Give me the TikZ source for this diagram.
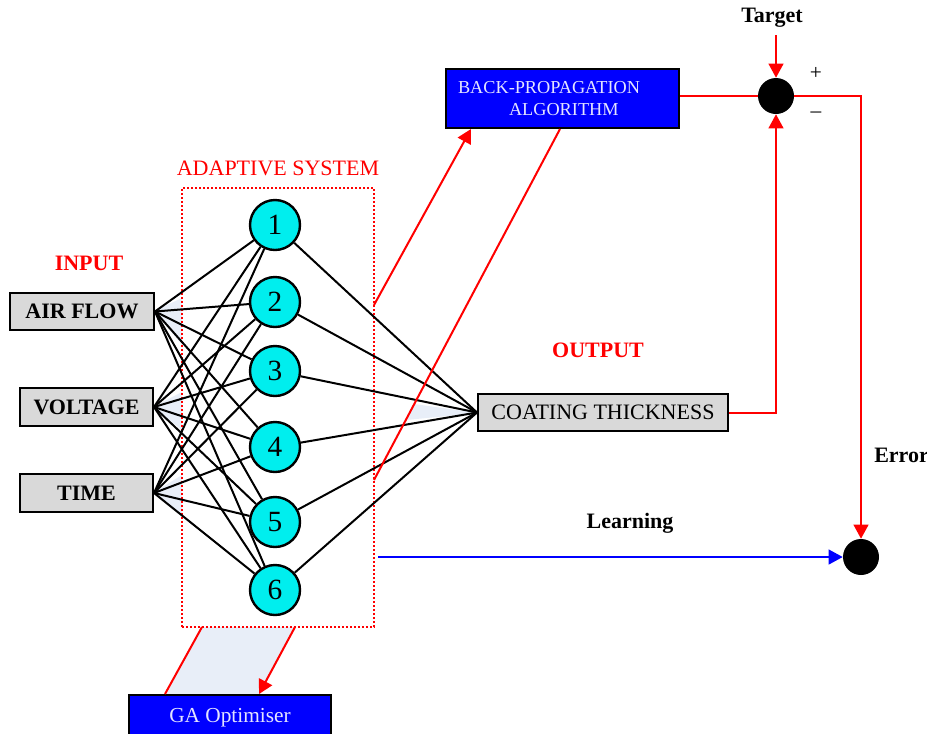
\documentclass[tikz,border=0pt]{standalone}
\usepackage{fontspec}
\setmainfont{Liberation Serif}
\usetikzlibrary{arrows.meta}
\definecolor{boxgray}{RGB}{217,217,217}
\definecolor{neuroncol}{RGB}{0,238,238}
\definecolor{shadecol}{RGB}{232,238,248}
\definecolor{bptext}{RGB}{228,228,255}
\begin{document}
\begin{tikzpicture}[x=0.75pt,y=-0.75pt,
  txt/.style={font=\fontsize{16.5}{19}\selectfont, inner sep=0pt},
  inbox/.style={draw=black, line width=1.5pt, fill=boxgray, inner sep=0pt, font=\fontsize{16.5}{19}\selectfont},
  bluebox/.style={draw=black, line width=1.5pt, fill=blue, text=bptext, inner sep=0pt},
  neuron/.style={circle, draw=black, line width=1.8pt, fill=neuroncol, minimum size=37.5pt, inner sep=0pt, font=\fontsize{22}{24}\selectfont},
  dot/.style={circle, fill=black, minimum size=27pt, inner sep=0pt},
  conn/.style={black, line width=1.5pt},
  redline/.style={red, line width=1.5pt},
  blueline/.style={blue, line width=1.5pt},
  tip/.style={-{Triangle[length=10.5pt,width=11pt]}}
]
\clip (0,0) rectangle (927,733);
\fill[white] (0,0) rectangle (927,733);

% faint shading
\fill[shadecol] (202,627) -- (295,627) -- (260,695) -- (166,695) -- cycle;
\fill[shadecol] (154,311) -- (182,298) -- (182,345) -- cycle;
\fill[shadecol] (153,407) -- (182,392) -- (182,430) -- cycle;
\fill[shadecol] (153,493) -- (182,475) -- (182,515) -- cycle;
\fill[shadecol] (478,413) -- (414,404) -- (406,420) -- cycle;

% adaptive system frame
\node[draw=red, line width=1.3pt, dash pattern=on 1.4pt off 1.6pt, minimum width=144pt, minimum height=329.25pt, inner sep=0pt] (adapt) at (278,407.5) {};
\node[txt, text=red] (adtitle) at (278,168) {ADAPTIVE SYSTEM};

% inputs
\node[txt, text=red] (inlbl) at (89,263) {\bfseries INPUT};
\node[inbox, minimum width=108pt, minimum height=27.75pt] (air) at (82,311.5) {\bfseries AIR FLOW};
\node[inbox, minimum width=99.75pt, minimum height=28.5pt] (volt) at (86.5,407) {\bfseries VOLTAGE};
\node[inbox, minimum width=99.75pt, minimum height=28.5pt] (time) at (86.5,493) {\bfseries TIME};

% hidden neurons
\foreach \i/\y in {1/225,2/302,3/371,4/447,5/522,6/590}
  \node[neuron] (h\i) at (275,\y) {\i};

% output
\node[txt, text=red] (outlbl) at (598,350) {\bfseries OUTPUT};
\node[inbox, minimum width=187.5pt, minimum height=27.75pt] (out) at (603,412.5) {COATING THICKNESS};

% connections
\foreach \s in {air,volt,time}
  \foreach \i in {1,...,6}
    \draw[conn] (\s.east) -- (h\i);
\foreach \i in {1,...,6}
  \draw[conn] (h\i) -- (out.west);

% back-propagation box
\node[bluebox, minimum width=174.75pt, minimum height=44.25pt, text width=156.75pt, inner xsep=9pt, align=left, font=\fontsize{13.7}{17}\selectfont] (bp) at (562.5,98.5) {BACK-PROPAGATION\\\hspace*{38.25pt}ALGORITHM};

% summing junction and error node
\node[dot] (sum) at (776,96) {};
\node[dot] (err) at (861,557) {};
\node[txt] (target) at (772,18) {\bfseries Target};
\node[font=\fontsize{16}{18}\selectfont, inner sep=0pt] (plus) at (816,73) {+};
\node[font=\fontsize{16}{18}\selectfont, inner sep=0pt] (minus) at (816,115) {–};
\node[txt, anchor=west] (errlbl) at (874,455) {\bfseries Error};
\node[txt] (learnlbl) at (630,523) {\bfseries Learning};

% GA optimiser
\node[bluebox, minimum width=151.5pt, minimum height=34.5pt, font=\fontsize{16}{18}\selectfont] (ga) at (230,718) {GA Optimiser};

% red connectors
\coordinate (bpA) at (374,305);
\coordinate (bpB) at (374,480);
\coordinate (tgtin) at (776,35);
\coordinate (learnA) at (378,557);
\coordinate (adB1) at (202,627);
\coordinate (adB2) at (295,627);
\draw[redline, tip] (bpA) -- ([xshift=19.5pt]bp.south west);
\draw[redline] ([xshift=86.25pt]bp.south west) -- (bpB);
\draw[redline] (bp.east |- sum) -- (sum);
\draw[redline, tip] (tgtin) -- (sum.north);
\draw[redline, tip] (sum.east) -| (err.north);
\draw[redline, tip] (out.east) -| (sum.south);
\draw[blueline, tip] (learnA) -- (err.west);
\draw[redline] (adB1) -- ([xshift=27.75pt]ga.north west);
\draw[redline, tip] (adB2) -- ([xshift=98.25pt]ga.north west);
\end{tikzpicture}
\end{document}
